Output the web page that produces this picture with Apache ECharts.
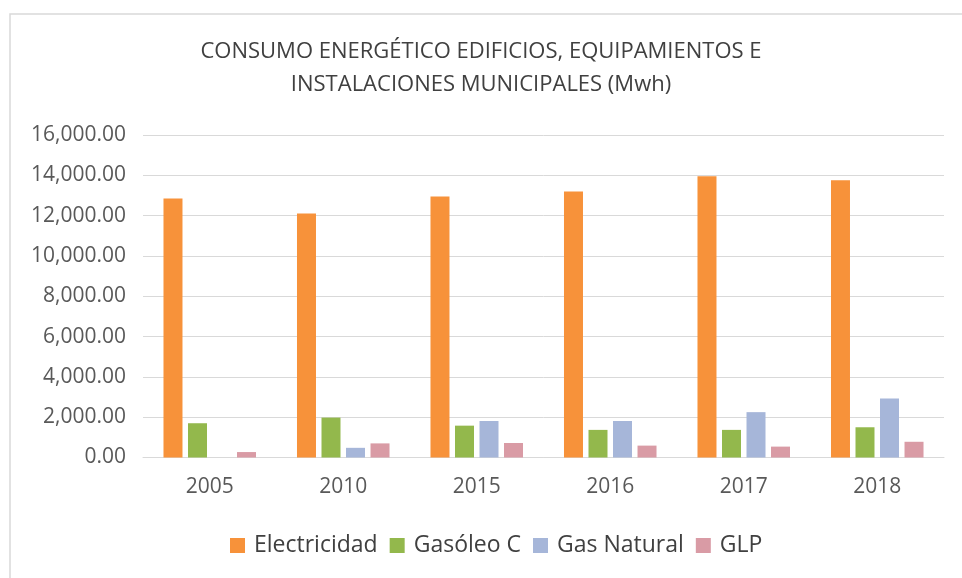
<!DOCTYPE html>
<html>
<head>
<meta charset="utf-8">
<script src="https://cdn.jsdelivr.net/npm/echarts@6/dist/echarts.min.js"></script>
<style>
html,body{margin:0;padding:0;background:#fff;}
#main{width:962px;height:578px;}
</style>
</head>
<body>
<div id="main"></div>
<script>
const categories = ['2005', '2010', '2015', '2016', '2017', '2018'];
const electricidad = [12850, 12100, 12950, 13200, 13950, 13750];
const gasoleoC = [1700, 1980, 1580, 1370, 1370, 1500];
const gasNatural = [0, 480, 1810, 1810, 2250, 2930];
const glp = [270, 700, 720, 590, 540, 780];
const yTicks = [0, 2000, 4000, 6000, 8000, 10000, 12000, 14000, 16000];

const FONT = '"Open Sans", sans-serif';
const chart = echarts.init(document.getElementById('main'));
const mk = (name, data, color) => ({
  name, type: 'bar', data, barWidth: 19, barGap: '29%',
  itemStyle: { color }
});
chart.setOption({
  animation: false,
  backgroundColor: '#fff',
  graphic: [{
    type: 'rect', shape: { x: 10, y: 14, width: 960, height: 580 },
    style: { fill: 'none', stroke: '#d9d9d9', lineWidth: 1.5 }, silent: true
  }],
  title: {
    text: 'CONSUMO ENERGÉTICO EDIFICIOS, EQUIPAMIENTOS E\nINSTALACIONES MUNICIPALES (Mwh)',
    left: 'center', top: 30,
    textStyle: { fontFamily: FONT, fontSize: 22, fontWeight: 'normal', color: '#404040', lineHeight: 33 }
  },
  legend: {
    bottom: 16, left: 225, itemWidth: 15, itemHeight: 15, itemGap: 12,
    icon: 'rect',
    textStyle: { fontFamily: FONT, fontSize: 23, color: '#404040', padding: [0, 0, 0, 4] },
    data: ['Electricidad', 'Gasóleo C', 'Gas Natural', 'GLP']
  },
  grid: { left: 143, right: 18, top: 135, bottom: 120.5 },
  xAxis: {
    type: 'category', data: categories,
    axisLine: { lineStyle: { color: '#d9d9d9' } },
    axisTick: { show: false },
    axisLabel: { fontFamily: FONT, fontSize: 21, color: '#595959', margin: 19 }
  },
  yAxis: {
    type: 'value', min: yTicks[0], max: yTicks[yTicks.length - 1], interval: 2000,
    axisLine: { show: false }, axisTick: { show: false },
    splitLine: { lineStyle: { color: '#d9d9d9' } },
    axisLabel: {
      fontFamily: FONT, fontSize: 21, color: '#595959', margin: 17,
      formatter: v => v.toLocaleString('en-US', { minimumFractionDigits: 2, maximumFractionDigits: 2 })
    }
  },
  series: [
    mk('Electricidad', electricidad, '#F7923A'),
    mk('Gasóleo C', gasoleoC, '#93B84C'),
    mk('Gas Natural', gasNatural, '#A6B6D9'),
    mk('GLP', glp, '#D99BA5')
  ]
});
</script>
</body>
</html>
